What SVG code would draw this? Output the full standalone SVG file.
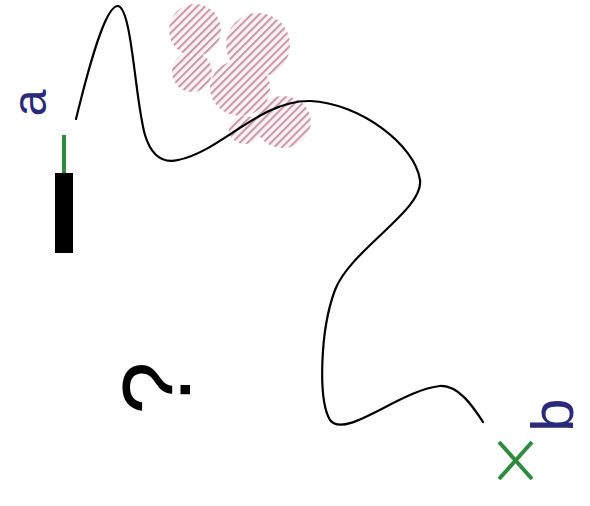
<svg xmlns="http://www.w3.org/2000/svg" width="590" height="506" viewBox="0 0 590 506">
<style>
.lbl{font-family:"Liberation Sans",Arial,sans-serif;fill:#2a2a7a}
.curve{fill:none;stroke:#000;stroke-width:2.2;stroke-linecap:round}
</style>
<defs>
<pattern id="hatch" patternUnits="userSpaceOnUse" width="5.5" height="5.5" patternTransform="rotate(45)">
<rect width="5.5" height="5.5" fill="#fdeef3"/>
<rect x="0" y="0" width="2" height="5.5" fill="#b46a86"/>
</pattern>
<filter id="soft" x="-10%" y="-10%" width="120%" height="120%">
<feGaussianBlur stdDeviation="0.7"/>
</filter>
</defs>
<rect width="590" height="506" fill="#fff"/>
<g id="hatchblob" fill="url(#hatch)" opacity="0.7" filter="url(#soft)">
<ellipse cx="195" cy="30" rx="26" ry="26"/>
<ellipse cx="258" cy="45" rx="32" ry="32"/>
<ellipse cx="192" cy="72" rx="20" ry="20"/>
<ellipse cx="240" cy="88" rx="30" ry="28"/>
<ellipse cx="283" cy="122" rx="28" ry="26"/>
<ellipse cx="245" cy="130" rx="16" ry="14"/>
</g>
<g id="connectors">
<path class="curve" d="M76,119 C88,70 105,5 118,6 C132,8 135,100 145,135 C152,158 165,163 178,160 C220,152 260,100 310,101 C360,103 415,145 420,180 C424,210 350,250 335,290 C320,330 318,400 330,420 C345,440 400,390 440,386 C460,385 475,410 483,422"/>
</g>
<g id="nodeA">
<text class="lbl" font-size="48" transform="translate(46,103) rotate(-90)" text-anchor="middle">a</text>
<rect x="62" y="135" width="4" height="38" fill="#2e8b3e"/>
<rect x="55" y="173" width="18" height="80" fill="#000"/>
</g>
<g id="nodeQ">
<text transform="translate(190,388) rotate(-90)" text-anchor="middle" font-family="Liberation Sans,Arial,sans-serif" font-size="96" fill="#000">?</text>
</g>
<g id="nodeB">
<text class="lbl" font-size="60" transform="translate(573,415) rotate(-90)" text-anchor="middle">b</text>
<path d="M499,442 L532,479 M532,442 L499,479" stroke="#2e8b3e" stroke-width="4" fill="none"/>
</g>
</svg>
